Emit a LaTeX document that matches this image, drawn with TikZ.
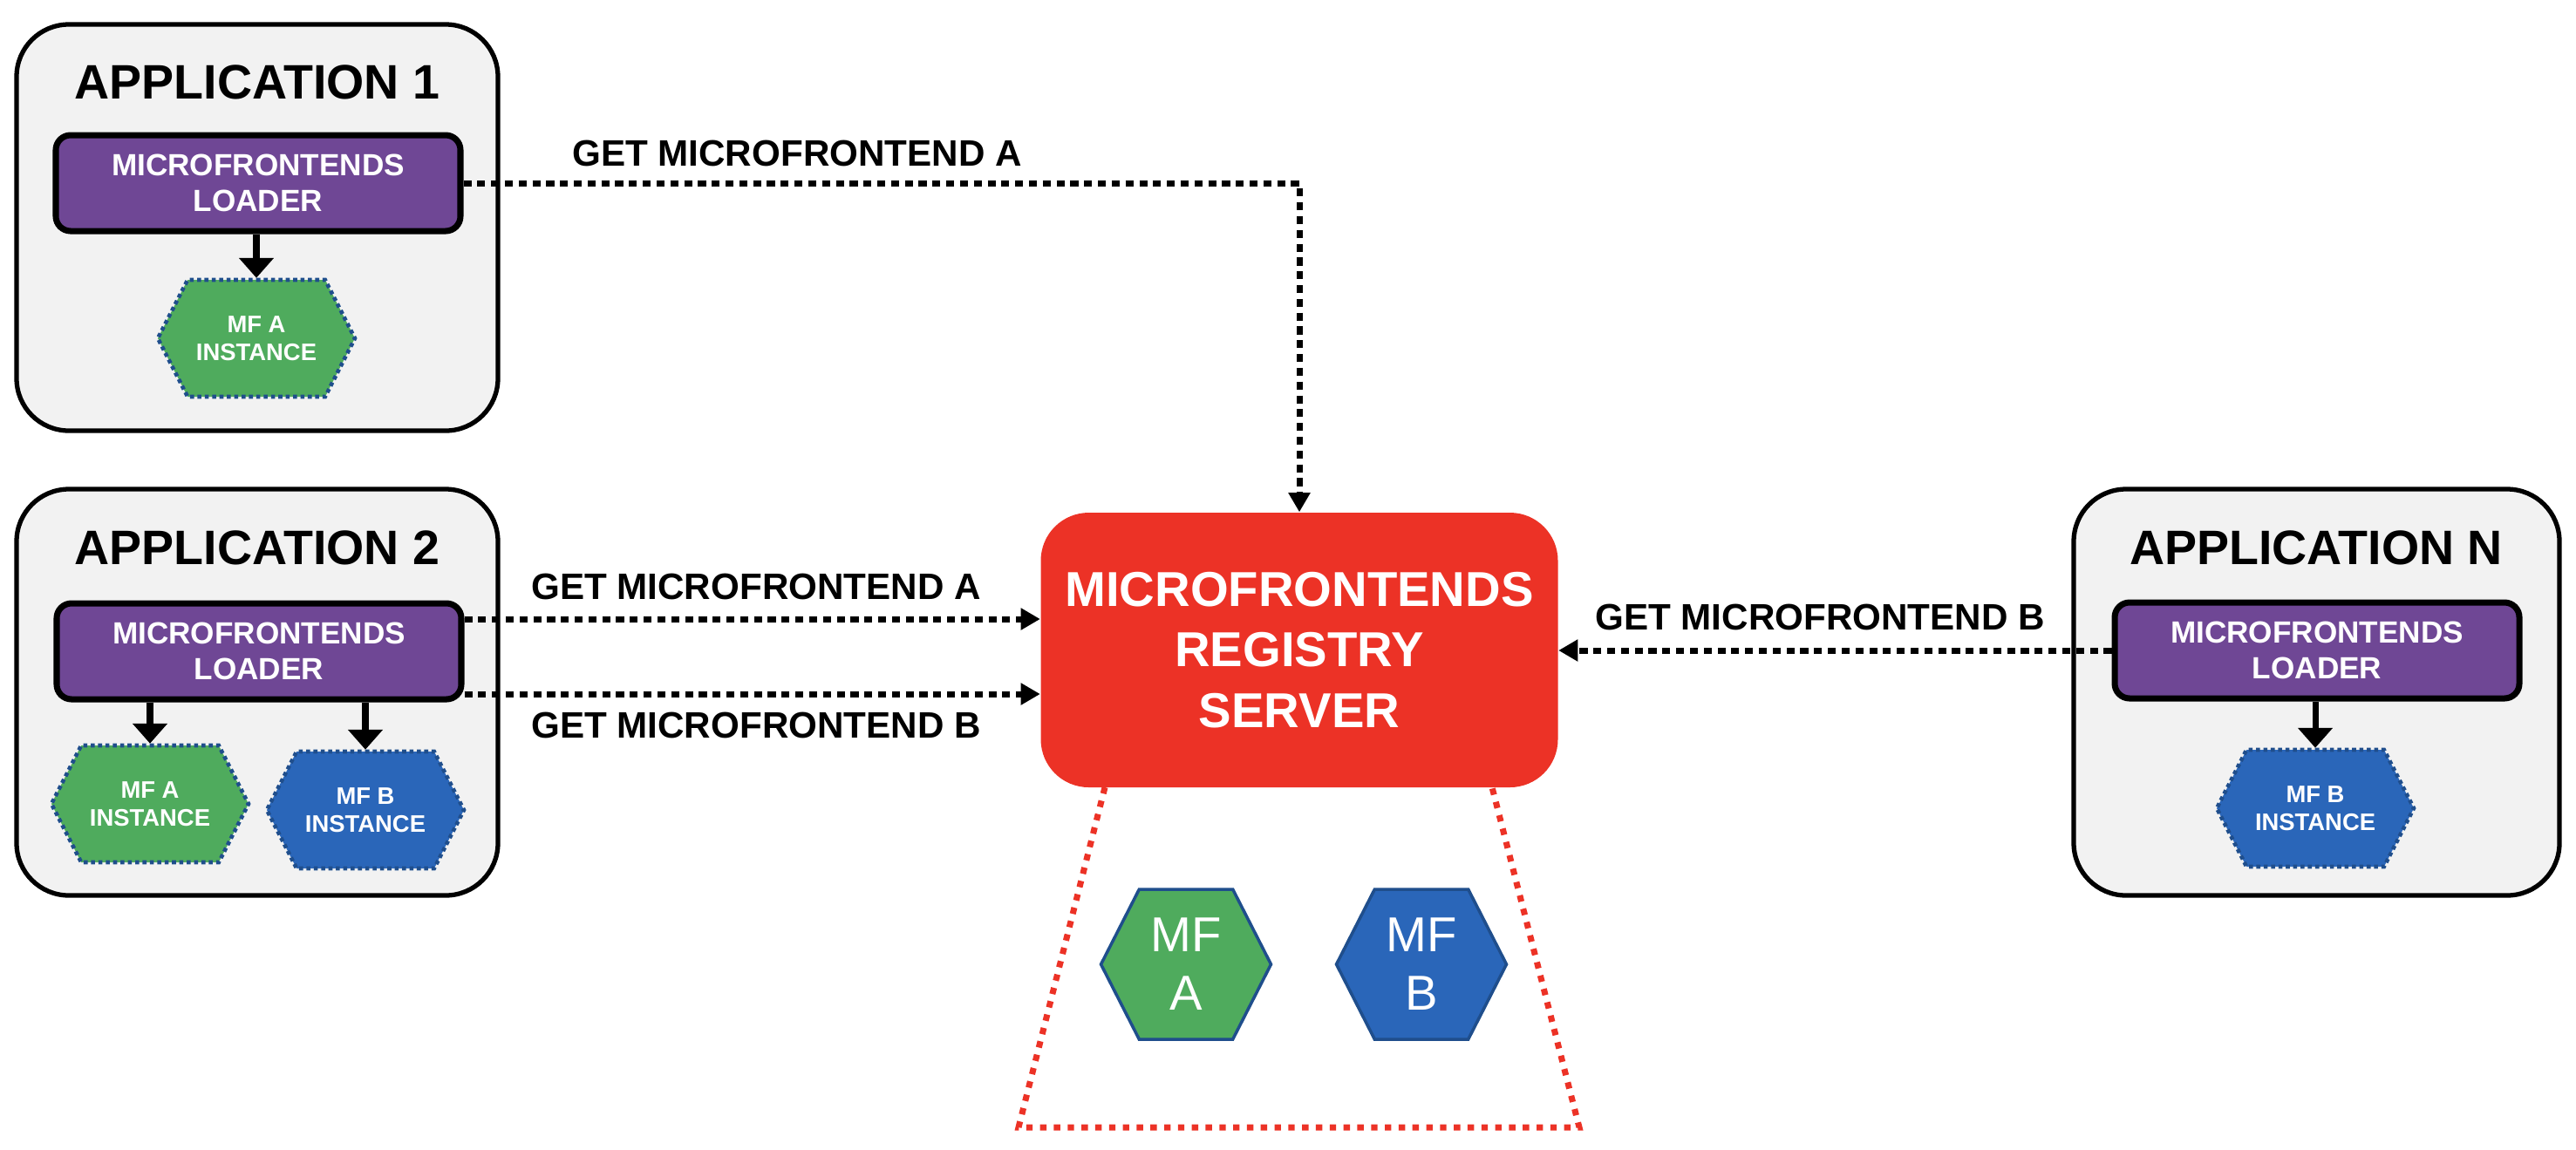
\documentclass[tikz,border=0pt]{standalone}
\usepackage{fontspec}
\setmainfont{Liberation Sans}
\usetikzlibrary{shapes.symbols,arrows.meta}

\definecolor{appgray}{HTML}{F2F2F2}
\definecolor{loaderpurple}{HTML}{6F4795}
\definecolor{mfgreen}{HTML}{4FAB5D}
\definecolor{mfblue}{HTML}{2A66B9}
\definecolor{srvred}{HTML}{EC3226}
\definecolor{hexedge}{HTML}{1F4E8C}

\begin{document}
\begin{tikzpicture}[x=1cm,y=-1cm,
    app/.style={rectangle, rounded corners=0.6cm, draw, line width=1.5pt, fill=appgray,
      minimum width=5.52cm, minimum height=4.66cm},
    apptitle/.style={font=\bfseries\fontsize{15.8}{19}\selectfont},
    loader/.style={rectangle, rounded corners=0.17cm, draw, line width=2pt, fill=loaderpurple,
      text=white, align=center, minimum width=4.64cm, minimum height=1.10cm,
      font=\bfseries\fontsize{10}{11.8}\selectfont},
    inst/.style={signal, signal to=east and west, signal pointer angle=126, draw=hexedge,
      line width=1.3pt, dash pattern=on 1.3pt off 1.1pt, text=white, align=center,
      minimum width=2.26cm, minimum height=1.34cm, inner sep=0pt,
      font=\bfseries\fontsize{7.8}{9.1}\selectfont},
    mf/.style={signal, signal to=east and west, signal pointer angle=126, draw=hexedge,
      line width=1pt, text=white, align=center, minimum width=1.95cm, minimum height=1.72cm,
      inner sep=0pt, font=\fontsize{16}{19}\selectfont},
    server/.style={rectangle, rounded corners=0.55cm, fill=srvred, text=white, align=center,
      minimum width=5.93cm, minimum height=3.15cm, font=\bfseries\fontsize{16}{19.8}\selectfont},
    lbl/.style={font=\bfseries\fontsize{12}{14}\selectfont},
    fetch/.style={line width=2pt, dash pattern=on 2.6pt off 1.9pt,
      -{Triangle[length=6.3pt,width=6.8pt]}},
    load/.style={line width=2pt, -{Triangle[length=6.5pt,width=11pt]}},
    cache/.style={srvred, line width=2pt, dash pattern=on 2.1pt off 2.4pt}
  ]
  \useasboundingbox (0,0) rectangle (29.54,13.18);

  % applications
  \node[app] (app1) at (2.95,2.61) {};
  \node[app] (app2) at (2.95,7.94) {};
  \node[app, minimum width=5.57cm] (appN) at (26.565,7.94) {};
  \node[apptitle] (t1) at (2.95,0.94) {APPLICATION 1};
  \node[apptitle] (t2) at (2.95,6.28) {APPLICATION 2};
  \node[apptitle] (tN) at (26.56,6.28) {APPLICATION N};

  \node[loader] (ld1) at (2.96,2.10) {MICROFRONTENDS\\LOADER};
  \node[loader] (ld2) at (2.97,7.47) {MICROFRONTENDS\\LOADER};
  \node[loader] (ldN) at (26.57,7.46) {MICROFRONTENDS\\LOADER};

  \node[inst, fill=mfgreen] (h1) at (2.94,3.88) {MF A\\INSTANCE};
  \node[inst, fill=mfgreen] (h2a) at (1.72,9.22) {MF A\\INSTANCE};
  \node[inst, fill=mfblue] (h2b) at (4.19,9.29) {MF B\\INSTANCE};
  \node[inst, fill=mfblue] (hN) at (26.55,9.27) {MF B\\INSTANCE};

  % registry
  \node[server] (srv) at (14.90,7.455) {MICROFRONTENDS\\REGISTRY\\SERVER};
  \draw[cache] (12.67,9.03) -- (11.68,12.93) -- (18.11,12.93) -- (17.11,9.03);
  \node[mf, fill=mfgreen] (ha) at (13.60,11.06) {MF\\A};
  \node[mf, fill=mfblue] (hb) at (16.30,11.06) {MF\\B};

  % loading
  \draw[load] (ld1.south -| h1.north) -- (h1.north);
  \draw[load] (ld2.south -| h2a.north) -- (h2a.north);
  \draw[load] (ld2.south -| h2b.north) -- (h2b.north);
  \draw[load] (ldN.south -| hN.north) -- (hN.north);

  % requests
  \draw[fetch] (ld1.east) -| (srv.north);
  \draw[fetch] ([yshift=0.37cm]ld2.east) coordinate (s2) -- (s2 -| srv.west);
  \draw[fetch] ([yshift=-0.49cm]ld2.east) coordinate (s3) -- (s3 -| srv.west);
  \draw[fetch] (ldN.west) -- (ldN.west -| srv.east);

  \node[lbl] (l1) at (9.14,1.76) {GET MICROFRONTEND A};
  \node[lbl] (l2) at (8.67,6.73) {GET MICROFRONTEND A};
  \node[lbl] (l3) at (8.67,8.32) {GET MICROFRONTEND B};
  \node[lbl] (l4) at (20.87,7.08) {GET MICROFRONTEND B};
\end{tikzpicture}
\end{document}
